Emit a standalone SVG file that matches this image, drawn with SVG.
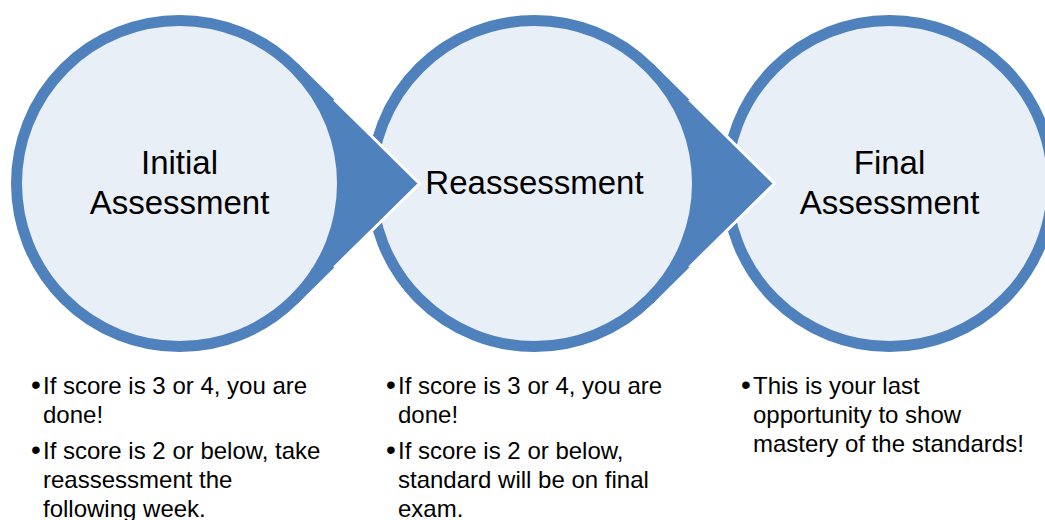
<svg xmlns="http://www.w3.org/2000/svg" width="1045" height="520" viewBox="0 0 1045 520">
  <style>
    .ring { fill: #E9EFF7; stroke: #4F81BD; stroke-width: 11; }
    .title { font-family: "Liberation Sans", Arial, sans-serif; font-size: 33px; fill: #000000; text-anchor: middle; }
    .body { font-family: "Liberation Sans", Arial, sans-serif; font-size: 24px; fill: #000000; }
    .bullet { font-family: "Liberation Sans", Arial, sans-serif; font-size: 28px; fill: #000000; }
    .arrowFill { fill: #4F81BD; stroke: none; }
    .arrowEdge { fill: none; stroke: #FFFFFF; stroke-width: 3; stroke-linejoin: miter; }
  </style>
  <rect x="0" y="0" width="1045" height="520" fill="#FFFFFF"/>

  <g id="node-initial">
    <circle class="ring" cx="179.5" cy="183.5" r="163"/>
    <text class="title" x="179.5" y="174">Initial</text>
    <text class="title" x="179.5" y="214">Assessment</text>
  </g>

  <g id="node-reassessment">
    <circle class="ring" cx="534.5" cy="183.5" r="163"/>
    <text class="title" x="534.5" y="194">Reassessment</text>
  </g>

  <g id="node-final">
    <circle class="ring" cx="889.5" cy="183.5" r="163"/>
    <text class="title" x="889.5" y="174">Final</text>
    <text class="title" x="889.5" y="214">Assessment</text>
  </g>

  <g id="connectors">
    <path class="arrowFill" d="M 297.8 63.5 L 419.5 183.5 L 297.8 303.5 L 293.2 298.9 A 162 162 0 0 0 293.2 68.1 Z"/>
    <polyline class="arrowEdge" points="334.3,99.5 419.5,183.5 334.3,267.5"/>
    <path class="arrowFill" d="M 652.8 63.5 L 774.5 183.5 L 652.8 303.5 L 648.2 298.9 A 162 162 0 0 0 648.2 68.1 Z"/>
    <polyline class="arrowEdge" points="689.3,99.5 774.5,183.5 689.3,267.5"/>
  </g>

  <g id="notes-initial">
    <text class="bullet" x="31" y="394">•</text>
    <text class="body" x="43" y="394">If score is 3 or 4, you are</text>
    <text class="body" x="43" y="423">done!</text>
    <text class="bullet" x="31" y="459">•</text>
    <text class="body" x="43" y="459">If score is 2 or below, take</text>
    <text class="body" x="43" y="488">reassessment the</text>
    <text class="body" x="43" y="517">following week.</text>
  </g>

  <g id="notes-reassessment">
    <text class="bullet" x="386" y="394">•</text>
    <text class="body" x="398" y="394">If score is 3 or 4, you are</text>
    <text class="body" x="398" y="423">done!</text>
    <text class="bullet" x="386" y="459">•</text>
    <text class="body" x="398" y="459">If score is 2 or below,</text>
    <text class="body" x="398" y="488">standard will be on final</text>
    <text class="body" x="398" y="517">exam.</text>
  </g>

  <g id="notes-final">
    <text class="bullet" x="741" y="394">•</text>
    <text class="body" x="753" y="394">This is your last</text>
    <text class="body" x="753" y="423">opportunity to show</text>
    <text class="body" x="753" y="452">mastery of the standards!</text>
  </g>
</svg>
